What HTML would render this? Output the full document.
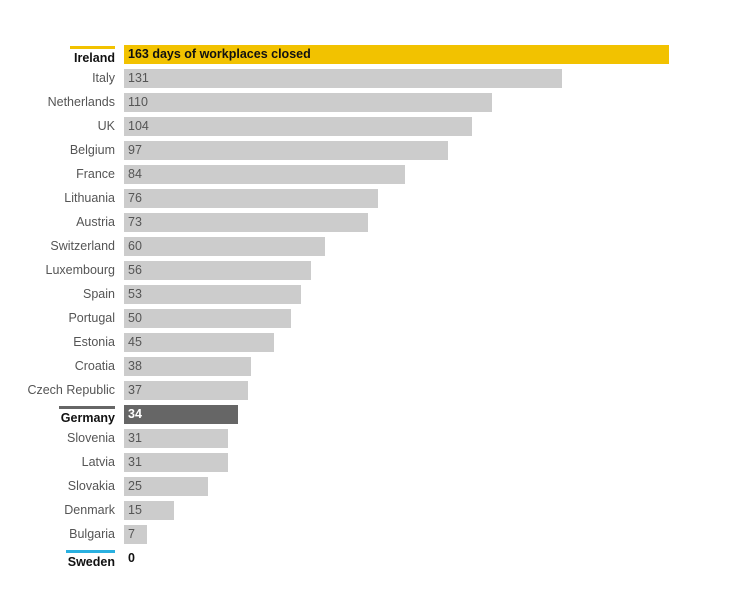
<!DOCTYPE html>
<html><head><style>
body{margin:0;width:729px;height:608px;background:#fff;position:relative;font-family:"Liberation Sans",sans-serif;font-size:12.5px;overflow:hidden}
.l{position:absolute;right:614px;text-align:right;color:#555;white-space:nowrap;line-height:19px}
.b{position:absolute;left:124px;height:19px;background:#ccc;color:#555;line-height:19px;padding-left:4px;box-sizing:border-box;white-space:nowrap}
.h{position:absolute;height:3px}
</style></head><body>
<div id="c"></div>
<script>
var d=[["Ireland",163],["Italy",131],["Netherlands",110],["UK",104],["Belgium",97],["France",84],["Lithuania",76],["Austria",73],["Switzerland",60],["Luxembourg",56],["Spain",53],["Portugal",50],["Estonia",45],["Croatia",38],["Czech Republic",37],["Germany",34],["Slovenia",31],["Latvia",31],["Slovakia",25],["Denmark",15],["Bulgaria",7],["Sweden",0]];
var h="";
d.forEach(function(r,i){
var y=45+i*24,w=Math.round(r[1]*3.344);
var bold=(r[0]=="Ireland"||r[0]=="Germany"||r[0]=="Sweden");
var ly=bold?y+4:y;
h+='<div class="l" style="top:'+ly+'px;'+(bold?'font-weight:bold;color:#111':'')+'">'+r[0]+'</div>';
var bg="#ccc",col="#555",txt=r[1];
if(r[0]=="Ireland"){bg="#f2c200";col="#111";txt="163 days of workplaces closed"}
if(r[0]=="Germany"){bg="#666";col="#fff"}
if(r[0]=="Sweden"){bg="transparent";col="#111"}
h+='<div class="b" style="top:'+y+'px;width:'+w+'px;background:'+bg+';color:'+col+';'+(bold?'font-weight:bold':'')+'">'+txt+'</div>';
});
h+='<div class="h" style="left:70px;width:45px;top:46px;background:#f2c200"></div>';
h+='<div class="h" style="left:59px;width:56px;top:406px;background:#666"></div>';
h+='<div class="h" style="left:66px;width:49px;top:550px;background:#29b0e0"></div>';
document.getElementById("c").innerHTML=h;
</script>
</body></html>
